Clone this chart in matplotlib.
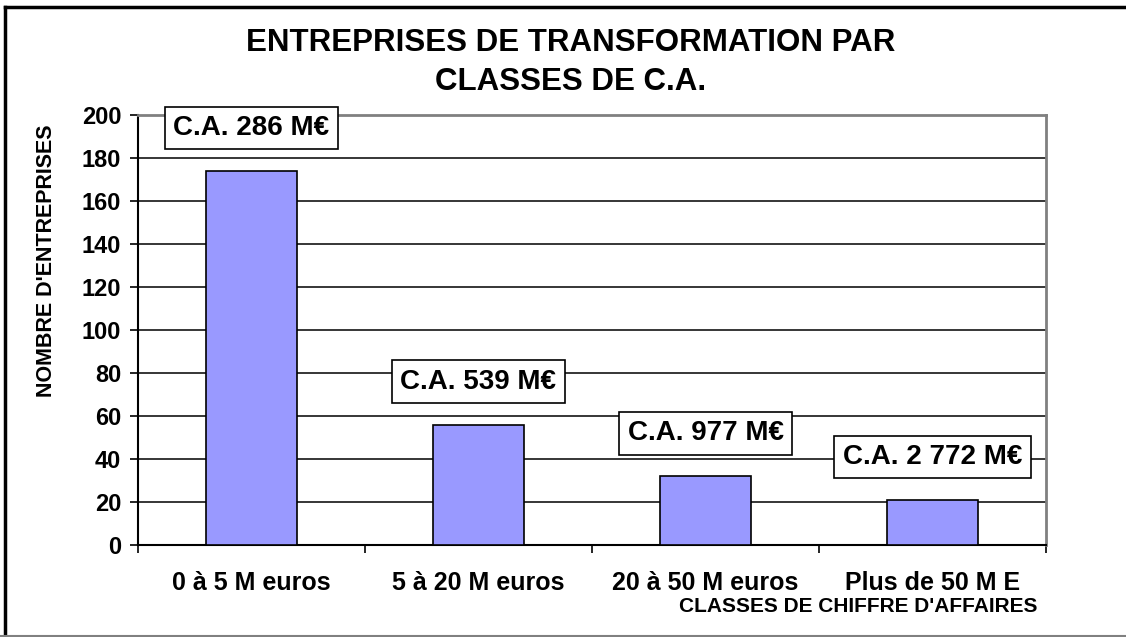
import matplotlib.pyplot as plt
from matplotlib.lines import Line2D

# données
classes = ["0 à 5 M euros", "5 à 20 M euros", "20 à 50 M euros", "Plus de 50 M E"]
nb_entreprises = [174, 56, 32, 21]
etiquettes_ca = ["C.A. 286 M€", "C.A. 539 M€", "C.A. 977 M€", "C.A. 2 772 M€"]
y_ticks = [0, 20, 40, 60, 80, 100, 120, 140, 160, 180, 200]

plt.rcParams['font.family'] = ['Liberation Sans', 'DejaVu Sans']
plt.rcParams['font.weight'] = 'bold'

fig = plt.figure(figsize=(11.26, 6.37), dpi=100)
ax = fig.add_axes([138 / 1126, 1 - 545 / 637, 908 / 1126, 430 / 637])

x = list(range(len(classes)))
ax.bar(x, nb_entreprises, width=0.4, color="#9999FF", edgecolor="black", linewidth=1.2, zorder=3)

# étiquettes de C.A. au-dessus des barres
for i, (v, lab) in enumerate(zip(nb_entreprises, etiquettes_ca)):
    ax.text(i, v + 20, lab, ha="center", va="center", fontsize=20, fontweight="bold",
            bbox=dict(boxstyle="square,pad=0.3", facecolor="white", edgecolor="black", linewidth=1.2),
            zorder=5)

ax.set_xlim(-0.5, len(classes) - 0.5)
ax.set_ylim(0, 200)
ax.set_yticks(y_ticks)
ax.set_yticklabels([str(t) for t in y_ticks], fontsize=17, fontweight="bold")
ax.yaxis.grid(True, color="black", linewidth=1.1, zorder=0)

# graduations aux limites des classes, libellés au centre
ax.set_xticks(x)
ax.set_xticklabels(classes, fontsize=18, fontweight="bold")
ax.tick_params(axis="x", which="major", length=0, pad=19)
ax.set_xticks([i - 0.5 for i in range(len(classes) + 1)], minor=True)
ax.tick_params(axis="x", which="minor", length=6, width=1.2, direction="out")
ax.tick_params(axis="y", length=6, width=1.2, pad=6)

for s in ["left", "bottom"]:
    ax.spines[s].set_color("black")
    ax.spines[s].set_linewidth(1.5)
for s in ["top", "right"]:
    ax.spines[s].set_color("#808080")
    ax.spines[s].set_linewidth(2)

ax.set_ylabel("NOMBRE D'ENTREPRISES", fontsize=15.5, fontweight="bold")
ax.yaxis.set_label_coords(-0.089, 0.66)
fig.text(858 / 1126, 1 - 606 / 637, "CLASSES DE CHIFFRE D'AFFAIRES", ha="center", va="center",
         fontsize=15, fontweight="bold")

fig.text(571 / 1126, 1 - 43 / 637, "ENTREPRISES DE TRANSFORMATION PAR", ha="center", va="center",
         fontsize=22.5, fontweight="bold")
fig.text(571 / 1126, 1 - 82 / 637, "CLASSES DE C.A.", ha="center", va="center",
         fontsize=22.5, fontweight="bold")

# cadre du graphique
fig.add_artist(Line2D([5 / 1126, 5 / 1126], [1 - 7 / 637, 0], color="black", linewidth=2.5))
fig.add_artist(Line2D([5 / 1126, 1], [1 - 7 / 637, 1 - 7 / 637], color="black", linewidth=2.5))
fig.add_artist(Line2D([0, 1], [1 / 637, 1 / 637], color="#808080", linewidth=1.5))

fig.savefig("out.png", dpi=100)
